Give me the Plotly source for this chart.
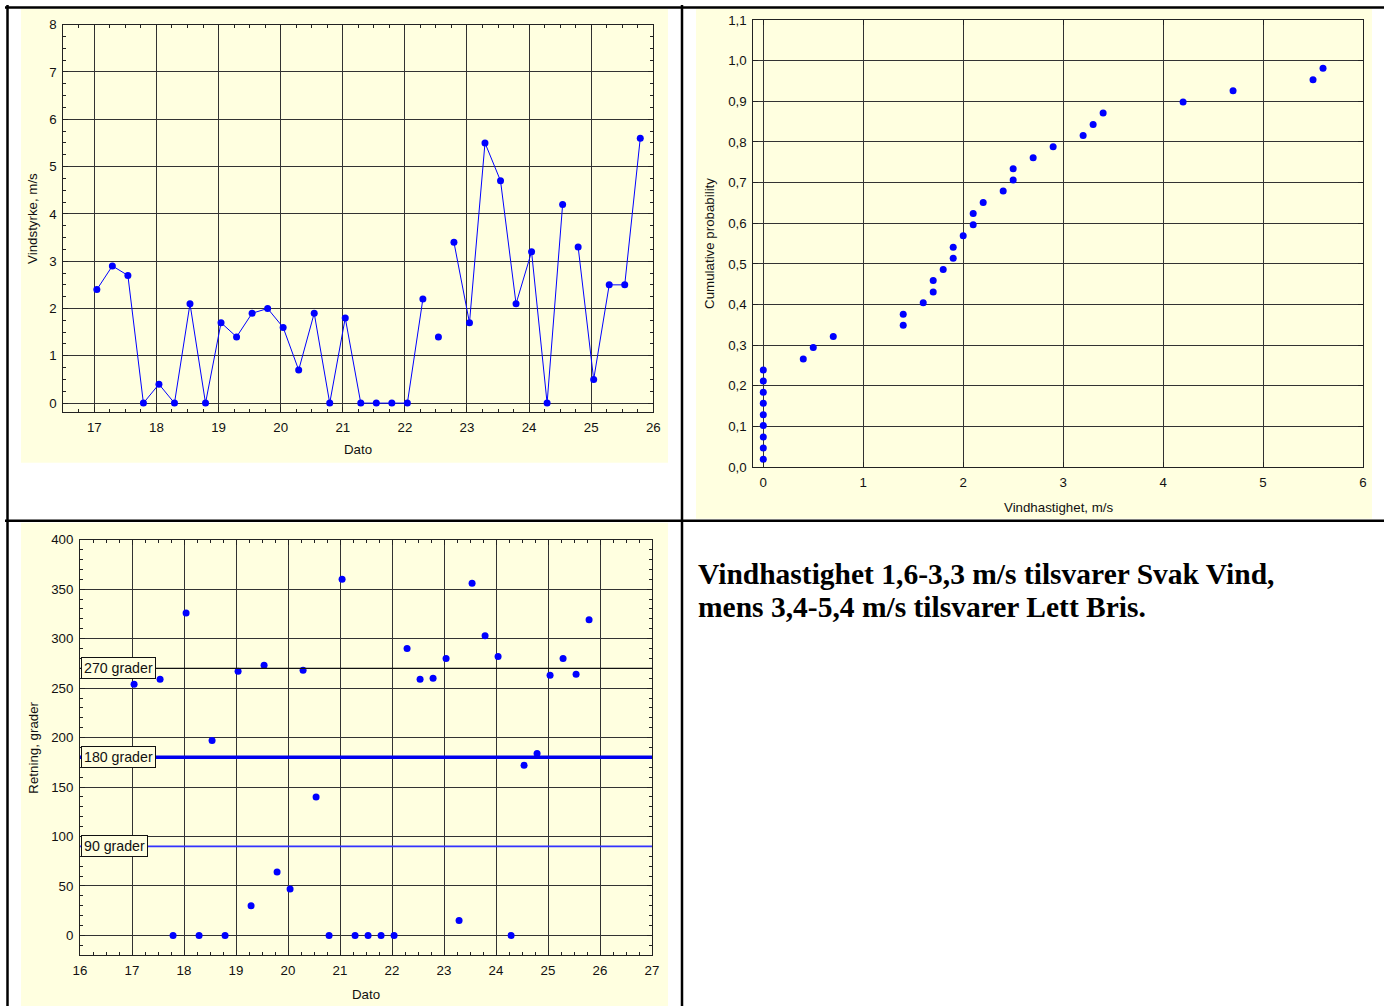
import plotly.graph_objects as go

# ---------------- data ----------------
# Top-left: wind speed time series
speed_dates = [17.04, 17.29, 17.54, 17.79, 18.04, 18.29, 18.54, 18.79, 19.04, 19.29,
               19.54, 19.79, 20.04, 20.29, 20.54, 20.79, 21.04, 21.29, 21.54, 21.79,
               22.04, 22.29, 22.54, 22.79, 23.04, 23.29, 23.54, 23.79, 24.04, 24.29,
               24.54, 24.79, 25.04, 25.29, 25.54, 25.79]
speed = [2.4, 2.9, 2.7, 0, 0.4, 0, 2.1, 0, 1.7, 1.4,
         1.9, 2.0, 1.6, 0.7, 1.9, 0, 1.8, 0, 0, 0,
         0, 2.2, 1.4, 3.4, 1.7, 5.5, 4.7, 2.1, 3.2, 0,
         4.2, 3.3, 0.5, 2.5, 2.5, 5.6]
line_breaks_after = [22.29, 22.54, 24.54]   # missing observations break the line

# Top-right: cumulative probability of wind speed
cum_speed = [0, 0, 0, 0, 0, 0, 0, 0, 0, 0.4, 0.5, 0.7, 1.4, 1.4, 1.6, 1.7, 1.7, 1.8,
             1.9, 1.9, 2.0, 2.1, 2.1, 2.2, 2.4, 2.5, 2.5, 2.7, 2.9, 3.2, 3.3, 3.4,
             4.2, 4.7, 5.5, 5.6]
cum_prob = [0.019, 0.047, 0.074, 0.102, 0.129, 0.157, 0.184, 0.212, 0.239, 0.266,
            0.294, 0.321, 0.349, 0.376, 0.404, 0.431, 0.459, 0.486, 0.514, 0.541,
            0.569, 0.596, 0.624, 0.651, 0.679, 0.706, 0.734, 0.761, 0.788, 0.816,
            0.843, 0.871, 0.898, 0.926, 0.953, 0.981]

# Bottom-left: wind direction
dir_dates = [17.04, 17.54, 17.79, 18.04, 18.29, 18.54, 18.79, 19.04, 19.29, 19.54,
             19.79, 20.04, 20.29, 20.54, 20.79, 21.04, 21.29, 21.54, 21.79, 22.04,
             22.29, 22.54, 22.79, 23.04, 23.29, 23.54, 23.79, 24.04, 24.29, 24.54,
             24.79, 25.04, 25.29, 25.54, 25.79]
direction = [254, 259, 0, 326, 0, 197, 0, 267, 30, 273,
             64, 47, 268, 140, 0, 360, 0, 0, 0, 0,
             290, 259, 260, 280, 15, 356, 303, 282, 0, 172,
             184, 263, 280, 264, 319]
ref_levels = [270, 180, 90]
ref_labels = ["270 grader", "180 grader", "90 grader"]

note_lines = ["Vindhastighet 1,6-3,3 m/s tilsvarer Svak Vind,",
              "mens 3,4-5,4 m/s tilsvarer Lett Bris."]

# ---------------- layout helpers ----------------
W, H = 1384, 1006
CREAM = "#FFFFE0"
BLUE = "#0000FF"
FONT = "Liberation Sans, Arial, sans-serif"
# the photographed page lands in an inset area; map target pixels accordingly
OX, OY, CW, CH = 7.0, 7.0, 1370.0, 991.5


def px_x(p):
    return (p - OX) / CW


def px_y(p):
    return 1 - (p - OY) / CH


# build line series with breaks
line_x, line_y = [], []
for d, v in zip(speed_dates, speed):
    line_x.append(d)
    line_y.append(v)
    if d in line_breaks_after:
        line_x.append(d + 0.01)
        line_y.append(None)

fig = go.Figure()
fig.add_trace(go.Scatter(x=line_x, y=line_y, mode="lines+markers", connectgaps=False,
                         line=dict(color=BLUE, width=1), marker=dict(color=BLUE, size=7),
                         xaxis="x", yaxis="y", showlegend=False))
fig.add_trace(go.Scatter(x=cum_speed, y=cum_prob, mode="markers",
                         marker=dict(color=BLUE, size=7),
                         xaxis="x2", yaxis="y2", showlegend=False))
fig.add_trace(go.Scatter(x=dir_dates, y=direction, mode="markers",
                         marker=dict(color=BLUE, size=7),
                         xaxis="x3", yaxis="y3", showlegend=False))

axis_common = dict(showline=True, linecolor="#222", linewidth=1, mirror="allticks",
                   ticks="inside", ticklen=5, tickcolor="#222",
                   showgrid=True, gridcolor="#333", gridwidth=1, zeroline=False,
                   tickfont=dict(family=FONT, size=13.3, color="#111"))
x_std = dict(ticklabelstandoff=3)
y_std = dict(ticklabelstandoff=3)

shapes = []
# cream panels
for (x0, y0, x1, y1) in [(21, 9, 668, 463), (696, 9, 1372, 519), (21, 523, 668, 1010)]:
    shapes.append(dict(type="rect", xref="paper", yref="paper", x0=px_x(x0), x1=px_x(x1),
                       y0=px_y(y1), y1=px_y(y0), fillcolor=CREAM, line=dict(width=0),
                       layer="below"))
# table borders
for (x0, y0, x1, y1) in [(5, 7.5, 1390, 7.5), (7.5, 5, 7.5, 1010), (682, 5, 682, 1010),
                         (5, 521, 1390, 521)]:
    shapes.append(dict(type="line", xref="paper", yref="paper", x0=px_x(x0), x1=px_x(x1),
                       y0=px_y(y0), y1=px_y(y1), line=dict(color="black", width=2.5)))
# reference lines in direction chart
ref_styles = [dict(color="#111", width=1.3), dict(color="#0000EE", width=3.5),
              dict(color="#3333FF", width=1.8)]
for lvl, st in zip(ref_levels, ref_styles):
    shapes.append(dict(type="line", xref="x3 domain", yref="y3", x0=0, x1=1, y0=lvl, y1=lvl,
                       line=st))

annotations = []
tfont = dict(family=FONT, size=13.3, color="#111")
for txt, x, y, ang in [("Vindstyrke, m/s", 33, 219, -90), ("Dato", 358, 450, 0),
                       ("Cumulative probability", 710, 244, -90),
                       ("Vindhastighet, m/s", 1058, 508, 0),
                       ("Retning, grader", 34, 748, -90), ("Dato", 366, 995, 0)]:
    annotations.append(dict(text=txt, xref="paper", yref="paper", x=px_x(x), y=px_y(y),
                            showarrow=False, textangle=ang, font=tfont,
                            xanchor="center", yanchor="middle"))
for lvl, lab in zip(ref_levels, ref_labels):
    annotations.append(dict(text=lab, xref="x3 domain", yref="y3", x=0.0015, y=lvl,
                            xanchor="left", yanchor="middle", showarrow=False,
                            bgcolor=CREAM, bordercolor="#111", borderwidth=1, borderpad=2,
                            font=dict(family=FONT, size=14.2, color="#111")))
for line, yc in zip(note_lines, [574, 607]):
    annotations.append(dict(text="<b>" + line + "</b>", xref="paper", yref="paper",
                            x=px_x(696), y=px_y(yc), xanchor="left", yanchor="middle",
                            align="left", showarrow=False,
                            font=dict(family="Liberation Serif, Times New Roman, serif",
                                      size=29.5, color="black")))

fig.update_layout(
    width=W, height=H, margin=dict(l=0, r=0, t=0, b=0),
    paper_bgcolor="white", plot_bgcolor=CREAM,
    xaxis=dict(domain=[px_x(63.3), px_x(653.3)], range=[16.5, 26], tickvals=list(range(17, 27)),
               minor=dict(ticks="inside", ticklen=3, dtick=0.25, tick0=16.5, tickcolor="#222",
                          showgrid=False),
               anchor="y", **axis_common, **x_std),
    yaxis=dict(domain=[px_y(412.3), px_y(24.7)], range=[-0.19, 8], tickvals=list(range(0, 9)),
               minor=dict(ticks="inside", ticklen=3, dtick=0.25, tick0=0, tickcolor="#222",
                          showgrid=False),
               anchor="x", **axis_common, **y_std),
    xaxis2=dict(domain=[px_x(753.3), px_x(1363)], range=[-0.1, 6], tickvals=list(range(0, 7)),
                anchor="y2", **axis_common, **x_std),
    yaxis2=dict(domain=[px_y(467.3), px_y(20)], range=[0, 1.1],
                tickvals=[i / 10 for i in range(12)],
                ticktext=[f"{i / 10:.1f}".replace(".", ",") for i in range(12)],
                anchor="x2", **axis_common, **y_std),
    xaxis3=dict(domain=[px_x(80), px_x(652)], range=[16, 27], tickvals=list(range(16, 28)),
                minor=dict(ticks="inside", ticklen=3, dtick=0.25, tick0=16, tickcolor="#222",
                           showgrid=False),
                anchor="y3", **axis_common, **x_std),
    yaxis3=dict(domain=[px_y(955.7), px_y(540)], range=[-20, 400],
                tickvals=list(range(0, 401, 50)),
                minor=dict(ticks="inside", ticklen=3, dtick=10, tick0=0, tickcolor="#222",
                           showgrid=False),
                anchor="x3", **axis_common, **y_std),
    shapes=shapes, annotations=annotations,
)

post = ("document.documentElement.style.margin='0';document.documentElement.style.overflow='hidden';"
        "document.body.style.margin='0';document.body.style.padding='0';"
        "document.body.style.overflow='hidden';"
        "var gd=document.getElementById('{plot_id}');gd.style.position='fixed';"
        "gd.style.left='0px';gd.style.top='0px';")

fig.write_html("out.html", config={"displayModeBar": False, "staticPlot": True},
               post_script=post)
